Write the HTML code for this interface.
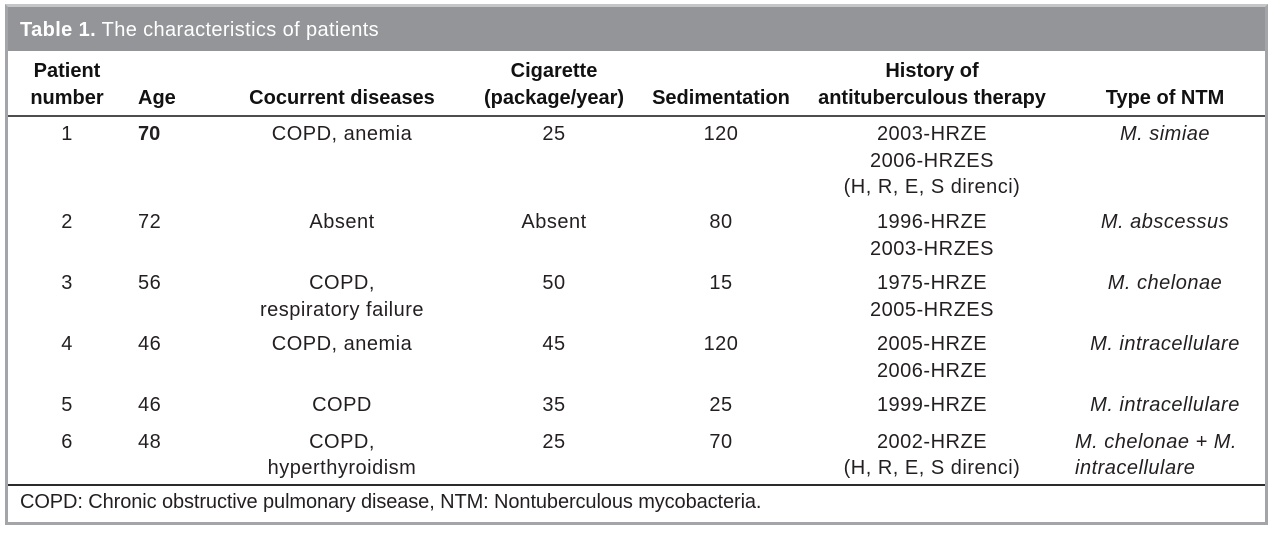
<!DOCTYPE html>
<html>
<head>
<meta charset="utf-8">
<style>
  html, body { margin:0; padding:0; background:#fff; }
  body { width:1273px; height:535px; position:relative; overflow:hidden; font-family:"Liberation Sans", sans-serif; color:#231f20; }
  .frame { position:absolute; left:5px; top:4px; width:1257px; height:515px; border:3px solid #a3a5a8; border-top-color:#c4c6c8; }
  .band { position:absolute; left:8px; top:7px; width:1257px; height:44px; background:#939598; }
  .hline { position:absolute; left:8px; width:1257px; height:2px; background:#4d4d4f; }
  .t { position:absolute; font-size:20px; line-height:27px; white-space:nowrap; letter-spacing:0.5px; }
  .c { width:300px; text-align:center; }
  .b { font-weight:bold; letter-spacing:0; color:#111; }
  .i { font-style:italic; }
  .title { position:absolute; left:20px; top:17px; font-size:20px; line-height:27px; color:#fff; white-space:nowrap; letter-spacing:0.38px; }
</style>
</head>
<body>
<div class="frame"></div>
<div class="band"></div>
<div class="title"><b>Table 1.</b> The characteristics of patients</div>

<!-- header -->
<div class="t c b" style="left:-83px;top:58px;">Patient</div>
<div class="t c b" style="left:-83px;top:85px;">number</div>
<div class="t b" style="left:138px;top:85px;">Age</div>
<div class="t c b" style="left:192px;top:85px;">Cocurrent diseases</div>
<div class="t c b" style="left:404px;top:58px;">Cigarette</div>
<div class="t c b" style="left:404px;top:85px;">(package/year)</div>
<div class="t c b" style="left:571px;top:85px;">Sedimentation</div>
<div class="t c b" style="left:782px;top:58px;">History of</div>
<div class="t c b" style="left:782px;top:85px;">antituberculous therapy</div>
<div class="t c b" style="left:1015px;top:85px;">Type of NTM</div>

<div class="hline" style="top:115px;"></div>

<!-- row 1 -->
<div class="t c" style="left:-83px;top:121px;">1</div>
<div class="t" style="left:138px;top:121px;font-weight:bold;letter-spacing:0;">70</div>
<div class="t c" style="left:192px;top:121px;">COPD, anemia</div>
<div class="t c" style="left:404px;top:121px;">25</div>
<div class="t c" style="left:571px;top:121px;">120</div>
<div class="t c" style="left:782px;top:121px;">2003-HRZE</div>
<div class="t c" style="left:782px;top:148px;">2006-HRZES</div>
<div class="t c" style="left:782px;top:174px;">(H, R, E, S direnci)</div>
<div class="t c i" style="left:1015px;top:121px;">M. simiae</div>

<!-- row 2 -->
<div class="t c" style="left:-83px;top:209px;">2</div>
<div class="t" style="left:138px;top:209px;">72</div>
<div class="t c" style="left:192px;top:209px;">Absent</div>
<div class="t c" style="left:404px;top:209px;">Absent</div>
<div class="t c" style="left:571px;top:209px;">80</div>
<div class="t c" style="left:782px;top:209px;">1996-HRZE</div>
<div class="t c" style="left:782px;top:236px;">2003-HRZES</div>
<div class="t c i" style="left:1015px;top:209px;">M. abscessus</div>

<!-- row 3 -->
<div class="t c" style="left:-83px;top:270px;">3</div>
<div class="t" style="left:138px;top:270px;">56</div>
<div class="t c" style="left:192px;top:270px;">COPD,</div>
<div class="t c" style="left:192px;top:297px;">respiratory failure</div>
<div class="t c" style="left:404px;top:270px;">50</div>
<div class="t c" style="left:571px;top:270px;">15</div>
<div class="t c" style="left:782px;top:270px;">1975-HRZE</div>
<div class="t c" style="left:782px;top:297px;">2005-HRZES</div>
<div class="t c i" style="left:1015px;top:270px;">M. chelonae</div>

<!-- row 4 -->
<div class="t c" style="left:-83px;top:331px;">4</div>
<div class="t" style="left:138px;top:331px;">46</div>
<div class="t c" style="left:192px;top:331px;">COPD, anemia</div>
<div class="t c" style="left:404px;top:331px;">45</div>
<div class="t c" style="left:571px;top:331px;">120</div>
<div class="t c" style="left:782px;top:331px;">2005-HRZE</div>
<div class="t c" style="left:782px;top:358px;">2006-HRZE</div>
<div class="t c i" style="left:1015px;top:331px;">M. intracellulare</div>

<!-- row 5 -->
<div class="t c" style="left:-83px;top:392px;">5</div>
<div class="t" style="left:138px;top:392px;">46</div>
<div class="t c" style="left:192px;top:392px;">COPD</div>
<div class="t c" style="left:404px;top:392px;">35</div>
<div class="t c" style="left:571px;top:392px;">25</div>
<div class="t c" style="left:782px;top:392px;">1999-HRZE</div>
<div class="t c i" style="left:1015px;top:392px;">M. intracellulare</div>

<!-- row 6 -->
<div class="t c" style="left:-83px;top:429px;">6</div>
<div class="t" style="left:138px;top:429px;">48</div>
<div class="t c" style="left:192px;top:429px;">COPD,</div>
<div class="t c" style="left:192px;top:455px;">hyperthyroidism</div>
<div class="t c" style="left:404px;top:429px;">25</div>
<div class="t c" style="left:571px;top:429px;">70</div>
<div class="t c" style="left:782px;top:429px;">2002-HRZE</div>
<div class="t c" style="left:782px;top:455px;">(H, R, E, S direnci)</div>
<div class="t i" style="left:1075px;top:429px;">M. chelonae + M.</div>
<div class="t i" style="left:1075px;top:455px;">intracellulare</div>

<div class="hline" style="top:484px;background:#2b2b2b;"></div>

<div class="t" style="left:20px;top:489px;letter-spacing:-0.1px;">COPD: Chronic obstructive pulmonary disease, NTM: Nontuberculous mycobacteria.</div>
</body>
</html>
